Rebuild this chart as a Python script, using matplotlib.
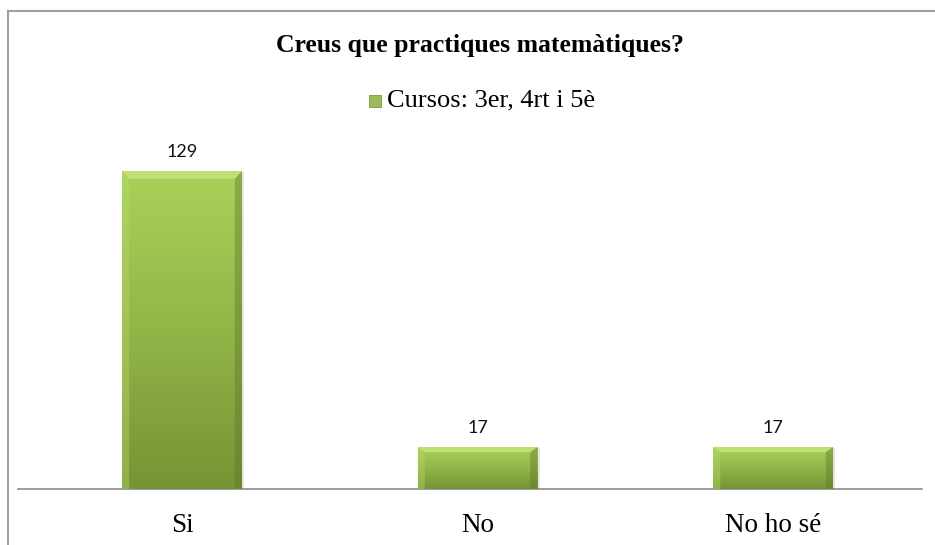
import matplotlib
matplotlib.use("Agg")
import matplotlib.pyplot as plt
import matplotlib.patches as mpatches
import matplotlib.transforms as mtransforms
import numpy as np
from matplotlib.colors import LinearSegmentedColormap

# data
categories = ["Si", "No", "No ho sé"]
values = [129, 17, 17]
series_name = "Cursos: 3er, 4rt i 5è"
title = "Creus que practiques matemàtiques?"

SERIF = ["Liberation Serif", "DejaVu Serif"]
SANS = ["Lato", "DejaVu Sans"]

fig = plt.figure(figsize=(9.35, 5.45), dpi=100)
W, H = 935, 545

# outer chart border (cut by the image on the right and bottom)
fig.patches.append(mpatches.Rectangle((8 / W, -0.1), 1.2, 1.1 - 11 / H,
                                      transform=fig.transFigure, fill=False,
                                      edgecolor="#a0a0a0", linewidth=1.5))

ax = fig.add_axes([18 / W, (H - 489) / H, 904 / W, 345 / H])
ax.set_xlim(-0.555, 2.504)
ax.set_ylim(0, 140)

x = np.arange(len(categories))
bw = 0.406
cmap = LinearSegmentedColormap.from_list("g", ["#759434", "#92b548", "#a9d25a"])
grad = np.linspace(0, 1, 256).reshape(-1, 1)

bars = ax.bar(x, values, width=bw, color="#9bbb59", edgecolor="none", zorder=2)
for b in bars:
    bx, by, bwid, bh = b.get_x(), b.get_y(), b.get_width(), b.get_height()
    # soft shadow
    ax.add_patch(mpatches.Rectangle((bx + 0.008, by - 0.4), bwid, bh,
                                    facecolor="#000000", alpha=0.10,
                                    edgecolor="none", zorder=1))
    im = ax.imshow(grad, cmap=cmap, aspect="auto", origin="lower",
                   extent=[bx, bx + bwid, by, by + bh], zorder=3)
    im.set_clip_path(b)
    # bevel edges
    ex = bwid * 0.06
    ey = min(bh * 0.12, 3.2)
    ax.add_patch(mpatches.Polygon([[bx, by + bh], [bx + bwid, by + bh],
                                   [bx + bwid - ex, by + bh - ey], [bx + ex, by + bh - ey]],
                                  closed=True, facecolor="#c6e47e", alpha=0.8,
                                  edgecolor="none", zorder=4))
    ax.add_patch(mpatches.Polygon([[bx, by], [bx, by + bh], [bx + ex, by + bh - ey], [bx + ex, by]],
                                  closed=True, facecolor="#b8da6c", alpha=0.4,
                                  edgecolor="none", zorder=4))
    ax.add_patch(mpatches.Polygon([[bx + bwid, by], [bx + bwid, by + bh],
                                   [bx + bwid - ex, by + bh - ey], [bx + bwid - ex, by]],
                                  closed=True, facecolor="#5a7528", alpha=0.4,
                                  edgecolor="none", zorder=4))
    ax.annotate(f"{int(bh)}", (bx + bwid / 2, by + bh), xytext=(0, 10),
                textcoords="offset points", ha="center", va="baseline",
                fontsize=13, family=SANS, color="#111111")

for s in ["top", "right", "left"]:
    ax.spines[s].set_visible(False)
ax.spines["bottom"].set_color("#8c8c8c")
ax.spines["bottom"].set_linewidth(1.2)
ax.set_yticks([])
ax.set_xticks([])

# category labels
trans = mtransforms.blended_transform_factory(ax.transData, fig.transFigure)
for xi, cat in zip(x, categories):
    ax.text(xi, 1 - 532 / H, cat, transform=trans, ha="center", va="baseline",
            family=SERIF, fontsize=19.5)

fig.text(480 / W, 1 - 52 / H, title, ha="center", va="baseline",
         family=SERIF, fontsize=18.5, fontweight="bold")

# legend
fig.patches.append(mpatches.Rectangle((369 / W, 1 - 107 / H), 12 / W, 12 / H,
                                      transform=fig.transFigure,
                                      facecolor="#9bbb59", edgecolor="#7a9838", linewidth=0.6))
fig.text(387 / W, 1 - 106 / H, series_name, ha="left", va="baseline",
         family=SERIF, fontsize=19)

fig.savefig("out.png", dpi=100)
